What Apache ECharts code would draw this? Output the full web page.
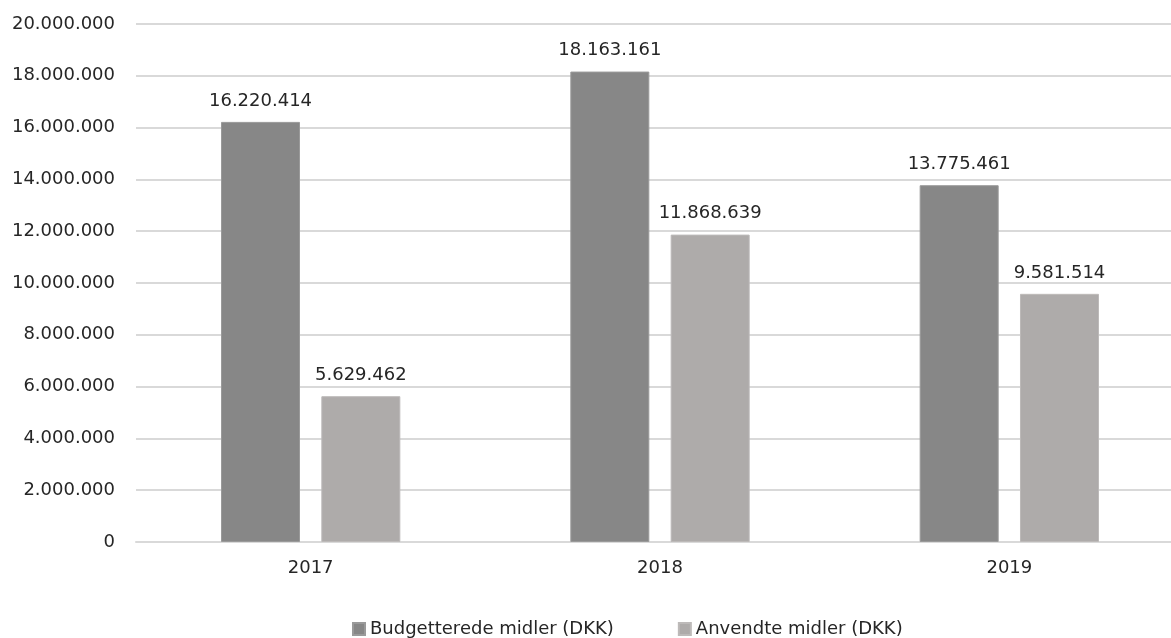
<!DOCTYPE html>
<html>
<head>
<meta charset="utf-8">
<script src="https://cdn.jsdelivr.net/npm/echarts@6/dist/echarts.min.js"></script>
<style>
  html, body { margin: 0; padding: 0; background: #fff; }
  #main { width: 1171px; height: 638px; }
</style>
</head>
<body>
<div id="main"></div>
<script>
  var years = ['2017', '2018', '2019'];
  var budgetteret = [16220414, 18163161, 13775461];
  var anvendt = [5629462, 11868639, 9581514];
  var seriesNames = ['Budgetterede midler (DKK)', 'Anvendte midler (DKK)'];

  // danish thousand separator
  function dkk(v) {
    return String(Math.round(v)).replace(/\B(?=(\d{3})+(?!\d))/g, '.');
  }

  var font = 'DejaVu Sans';
  var textColor = '#262626';

  var chart = echarts.init(document.getElementById('main'));

  var labelOption = {
    show: true,
    position: 'top',
    distance: 12,
    color: textColor,
    fontFamily: font,
    fontSize: 18,
    formatter: function (p) { return dkk(p.value); }
  };

  var option = {
    animation: false,
    grid: {
      left: 136,
      top: 24,
      width: 1048,
      bottom: 96,
      outerBoundsMode: 'none'
    },
    legend: {
      data: seriesNames,
      left: 347,
      top: 615,
      itemWidth: 12,
      itemHeight: 12,
      itemGap: 64,
      icon: 'rect',
      textStyle: { color: textColor, fontFamily: font, fontSize: 18 }
    },
    xAxis: {
      type: 'category',
      data: years,
      axisLine: { lineStyle: { color: '#D9D9D9', width: 2 } },
      axisTick: { show: false },
      axisLabel: { color: textColor, fontFamily: font, fontSize: 18, margin: 17 }
    },
    yAxis: {
      type: 'value',
      min: 0,
      max: 20000000,
      interval: 2000000,
      axisLine: { show: false },
      axisTick: { show: false },
      splitLine: { lineStyle: { color: '#D9D9D9', width: 2 } },
      axisLabel: {
        color: textColor, fontFamily: font, fontSize: 18, margin: 21,
        formatter: function (v) { return dkk(v); }
      }
    },
    series: [
      {
        name: seriesNames[0],
        type: 'bar',
        data: budgetteret,
        barWidth: 79,
        barGap: '27%',
        itemStyle: { color: '#878787', borderColor: '#9a9a9a', borderWidth: 1 },
        label: labelOption
      },
      {
        name: seriesNames[1],
        type: 'bar',
        data: anvendt,
        barWidth: 79,
        itemStyle: { color: '#AEABAA', borderColor: '#bdbab9', borderWidth: 1 },
        label: labelOption
      }
    ]
  };

  option && chart.setOption(option);
</script>
</body>
</html>
